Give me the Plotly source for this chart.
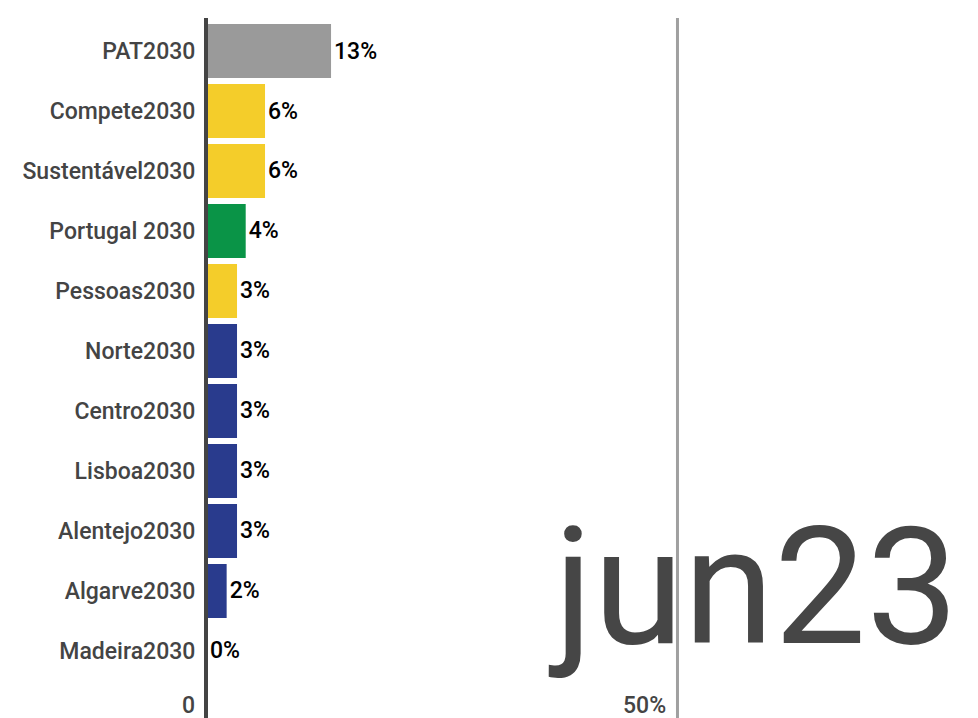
import plotly.graph_objects as go

categories = ["PAT2030", "Compete2030", "Sustentável2030", "Portugal 2030", "Pessoas2030",
              "Norte2030", "Centro2030", "Lisboa2030", "Alentejo2030", "Algarve2030", "Madeira2030"]
values = [13.26, 6.26, 6.26, 4.21, 3.29, 3.29, 3.29, 3.29, 3.29, 2.19, 0.05]
colors = ["#9a9a9a", "#f4cd2a", "#f4cd2a", "#0a9447", "#f4cd2a",
          "#293b8d", "#293b8d", "#293b8d", "#293b8d", "#293b8d", "#293b8d"]
tick_values = [0, 50]
tick_labels = ["0", "50%"]
period_label = "jun23"

FONT = "Roboto"
XMAX = 81.87
idx = list(range(len(categories)))

fig = go.Figure()
fig.add_trace(go.Bar(
    x=values, y=idx, orientation="h",
    marker=dict(color=colors, line=dict(width=0)),
    texttemplate="%{x:.0f}%", textposition="outside",
    textfont=dict(family=FONT, size=23, color="#000000", weight=500),
    constraintext="none", cliponaxis=False, width=0.9,
    hoverinfo="skip",
))
fig.add_trace(go.Scatter(
    x=[79.8], y=[9.18], mode="text", text=[period_label],
    textposition="middle left",
    textfont=dict(family=FONT, size=164, color="#464646"),
    hoverinfo="skip", showlegend=False,
))

shapes = [
    dict(type="line", xref="paper", yref="paper", x0=50 / XMAX, x1=50 / XMAX, y0=0, y1=1,
         line=dict(color="#a0a0a0", width=3), layer="above"),
    dict(type="line", xref="paper", yref="paper", x0=0, x1=0, y0=0, y1=1,
         line=dict(color="#444444", width=4), layer="above"),
]
annotations = []
for tv, tl in zip(tick_values, tick_labels):
    annotations.append(dict(x=tv, xref="x", y=0, yref="paper", text=tl,
                            showarrow=False, xanchor="right", yanchor="bottom",
                            xshift=-9, yshift=-3,
                            font=dict(family=FONT, size=23, color="#444444", weight=500)))

fig.update_layout(
    width=978, height=718,
    margin=dict(l=206, r=0, t=18, b=0, pad=0),
    paper_bgcolor="white", plot_bgcolor="white",
    showlegend=False,
    shapes=shapes, annotations=annotations,
    xaxis=dict(range=[0, XMAX], showgrid=False, zeroline=False,
               showticklabels=False, showline=False, fixedrange=True),
    yaxis=dict(range=[11.117, -0.55], tickmode="array", tickvals=idx, ticktext=categories,
               showgrid=False, zeroline=False, showline=False,
               ticks="outside", ticklen=5, tickcolor="rgba(0,0,0,0)",
               tickfont=dict(family=FONT, size=23, color="#444444", weight=500),
               fixedrange=True),
)

fig.write_html("out.html", config={"displayModeBar": False},
               post_script="document.body.style.margin='0';document.body.style.overflow='hidden';")
